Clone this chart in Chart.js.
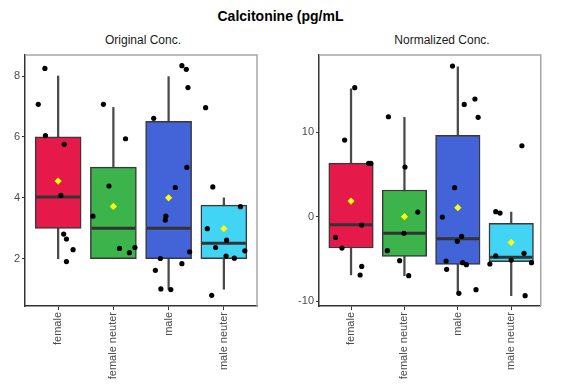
<!DOCTYPE html>
<html>
<head>
<meta charset="utf-8">
<script src="https://cdn.jsdelivr.net/npm/chart.js@4.4.0/dist/chart.umd.min.js"></script>
<style>
  body { margin: 0; background: #fff; font-family: 'Liberation Sans', Arial, sans-serif; }
  #wrap { position: relative; width: 565px; height: 387px; overflow: hidden; }
  .title { position: absolute; top: 8px; left: 0; width: 561px; text-align: center; font-weight: bold; font-size: 14px; color: #000; }
  .sub { position: absolute; top: 33px; width: 200px; font-size: 12px; color: #1a1a1a; text-align: center; }
  canvas { position: absolute; top: 0; }
</style>
</head>
<body>
<div id="wrap">
  <div class="title">Calcitonine (pg/mL</div>
  <div class="sub" style="left:43px">Original Conc.</div>
  <div class="sub" style="left:342px">Normalized Conc.</div>
  <canvas id="orig" width="282" height="387" style="left:0"></canvas>
  <canvas id="norm" width="283" height="387" style="left:282px"></canvas>
</div>
<script>
const categories = ['female', 'female neuter', 'male', 'male neuter'];
const boxColors = ['#e6194b', '#3cb44b', '#4363d8', '#42d4f4'];

// Original Conc.
const origTicks = [2, 4, 6, 8];
const origLow = [2, 2, 1, 1];
const origQ1 = [3, 2, 2, 2];
const origMedian = [4.03, 3, 3, 2.51];
const origQ3 = [6, 5.01, 6.51, 3.76];
const origHigh = [8, 6.97, 7.98, 4];
const origMean = [4.55, 3.72, 4.0, 2.99];
const origPoints = [
  [7.07, 8.25, 6.04, 5.76, 4.08, 2.81, 2.65, 2.30, 1.91],
  [7.07, 5.94, 4.39, 3.40, 2.34, 2.20, 2.37],
  [8.34, 8.22, 7.62, 6.61, 5.00, 4.34, 3.40, 3.27, 2.01, 2.23, 1.84, 1.62, 1.01, 0.99],
  [6.96, 4.36, 3.71, 2.99, 2.61, 2.37, 2.26, 2.09, 2.02, 0.80]
];
const origJitter = [
  [-0.36, -0.24, -0.23, 0.11, 0.05, 0.10, 0.15, 0.27, 0.15],
  [-0.18, 0.22, -0.08, -0.37, 0.11, 0.29, 0.39],
  [0.24, 0.32, 0.35, -0.27, 0.33, 0.12, -0.05, -0.06, -0.15, 0.38, 0.24, -0.24, -0.14, 0.04],
  [-0.33, -0.20, 0.30, -0.30, 0.05, -0.15, 0.38, 0.04, 0.19, -0.22]
];

// Normalized Conc.
const normTicks = [-10, 0, 10];
const normLow = [-6.9, -6.98, -9.07, -9.35];
const normQ1 = [-3.71, -4.69, -5.64, -5.33];
const normMedian = [-0.95, -1.97, -2.6, -4.81];
const normQ3 = [6.35, 3.16, 9.63, -0.79];
const normHigh = [15.15, 11.76, 17.75, 0.55];
const normMean = [1.85, 0.0, 1.07, -3.04];
const normPoints = [
  [15.27, 9.07, 6.31, 6.31, -0.99, -2.45, -3.71, -5.88, -6.90],
  [11.83, 5.88, 0.55, -1.97, -4.02, -5.21, -6.98],
  [17.83, 13.29, 13.93, 11.76, 3.43, -0.04, -2.33, -2.92, -5.25, -6.23, -5.44, -5.68, -8.64, -9.07],
  [8.40, 0.59, 0.43, -4.34, -4.62, -5.13, -5.60, -5.44, -9.35]
];
const normJitter = [
  [0.07, -0.12, 0.33, 0.37, 0.20, -0.29, -0.17, 0.20, 0.17],
  [-0.30, 0.01, 0.25, -0.01, -0.32, -0.09, 0.08],
  [-0.10, 0.12, 0.32, 0.38, -0.06, -0.29, 0.07, -0.01, -0.22, -0.21, 0.09, 0.16, 0.34, 0.02],
  [0.20, -0.29, -0.21, 0.24, -0.29, 0.00, -0.40, 0.38, 0.26]
];

const panelFrame = {
  id: 'panelFrame',
  beforeDatasetsDraw(chart) {
    const a = chart.chartArea, ctx = chart.ctx;
    ctx.save();
    ctx.strokeStyle = '#a6a6a6';
    ctx.lineWidth = 1.5;
    ctx.beginPath();
    ctx.moveTo(a.left, a.top);
    ctx.lineTo(a.right, a.top);
    ctx.lineTo(a.right, a.bottom);
    ctx.stroke();
    ctx.restore();
  }
};

function boxChart(id, d) {
  const boxWidth = d.boxWidth;
  const pts = [];
  d.points.forEach((vals, i) => vals.forEach((v, j) => pts.push({ x: i + 1 + d.jitter[i][j], y: v })));
  new Chart(document.getElementById(id), {
    type: 'bar',
    data: {
      datasets: [
        {
          type: 'bar', grouped: false, order: 5,
          data: categories.map((c, i) => ({ x: i + 1, y: [d.low[i], d.high[i]] })),
          backgroundColor: '#4a4a4a', barThickness: 1.6
        },
        {
          type: 'bar', grouped: false, order: 4,
          data: categories.map((c, i) => ({ x: i + 1, y: [d.q1[i], d.q3[i]] })),
          backgroundColor: boxColors, borderColor: '#383838', borderWidth: 1.5,
          borderSkipped: false, barThickness: boxWidth
        },
        {
          type: 'scatter', order: 3,
          data: categories.map((c, i) => ({ x: i + 1, y: d.median[i] })),
          pointStyle: 'line', pointRadius: boxWidth / 2 - 1, borderColor: '#333', borderWidth: 3
        },
        {
          type: 'scatter', order: 2, data: pts,
          pointRadius: 2.6, backgroundColor: '#000', borderWidth: 0
        },
        {
          type: 'scatter', order: 1,
          data: categories.map((c, i) => ({ x: i + 1, y: d.mean[i] })),
          pointStyle: 'rectRot', pointRadius: 3.6, backgroundColor: '#ffff00', borderWidth: 0
        }
      ]
    },
    options: {
      responsive: false,
      animation: false,
      events: [],
      layout: { padding: { top: 55, right: d.padRight, left: 0, bottom: 0 } },
      plugins: { legend: { display: false }, tooltip: { enabled: false } },
      scales: {
        x: {
          type: 'linear', min: 0.4, max: d.xMax, offset: false,
          afterBuildTicks: s => { s.ticks = categories.map((c, i) => ({ value: i + 1 })); },
          afterFit: s => { s.height = 81; },
          ticks: {
            callback: v => categories[v - 1], autoSkip: false,
            minRotation: 90, maxRotation: 90, padding: 2,
            color: '#4d4d4d', font: { size: 11, family: "'Liberation Sans', Arial" }
          },
          grid: { offset: false, drawOnChartArea: false, drawTicks: true, tickLength: 4, color: '#333', lineWidth: 1 },
          border: { display: true, color: '#333', width: 1.5 }
        },
        y: {
          min: d.yMin, max: d.yMax,
          afterBuildTicks: s => { s.ticks = d.ticks.map(v => ({ value: v })); },
          afterFit: s => { s.width = d.yWidth; },
          ticks: { padding: 2, color: '#4d4d4d', font: { size: 11, family: "'Liberation Sans', Arial" } },
          grid: { drawOnChartArea: false, drawTicks: true, tickLength: 3, color: '#333', lineWidth: 1 },
          border: { display: true, color: '#333', width: 1.5 }
        }
      }
    },
    plugins: [panelFrame]
  });
}

boxChart('orig', {
  low: origLow, q1: origQ1, median: origMedian, q3: origQ3, high: origHigh, mean: origMean,
  points: origPoints, jitter: origJitter, ticks: origTicks,
  yMin: 0.45, yMax: 8.69, xMax: 4.6, yWidth: 14, padRight: 10, boxWidth: 46
});

boxChart('norm', {
  low: normLow, q1: normQ1, median: normMedian, q3: normQ3, high: normHigh, mean: normMean,
  points: normPoints, jitter: normJitter, ticks: normTicks,
  yMin: -10.57, yMax: 19.14, xMax: 4.553, yWidth: 37, padRight: 0, boxWidth: 44.5
});
</script>
</body>
</html>
